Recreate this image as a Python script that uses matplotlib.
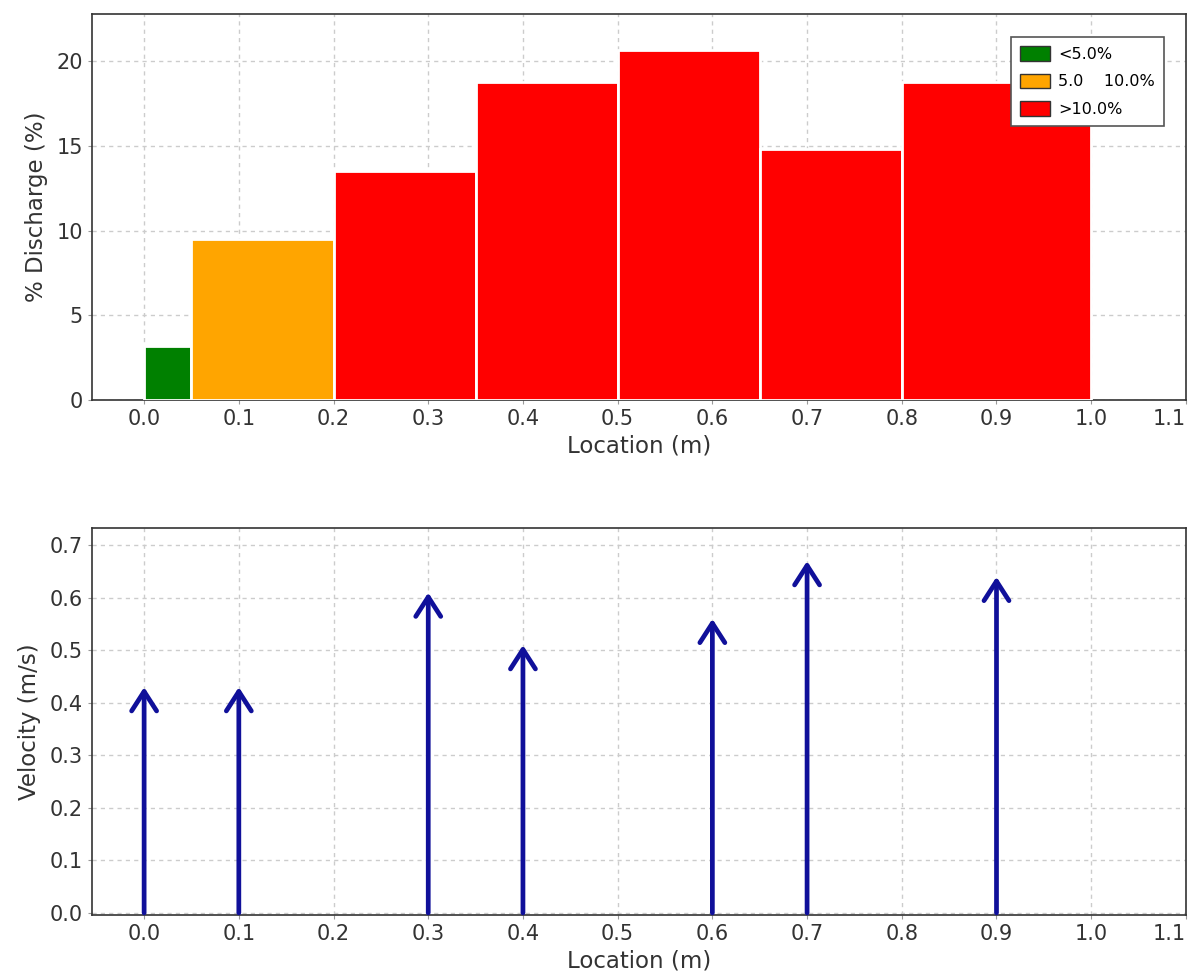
import numpy as np
import matplotlib.pyplot as plt

# discharge per panel
bin_left = [0.0, 0.05, 0.2, 0.35, 0.5, 0.65, 0.8]
bin_width = [0.05, 0.15, 0.15, 0.15, 0.15, 0.15, 0.2]
discharge = [3.2, 9.5, 13.5, 18.8, 20.65, 14.85, 18.8]

# velocity at each station
station = [0.0, 0.1, 0.3, 0.4, 0.6, 0.7, 0.9]
velocity = [0.43, 0.43, 0.61, 0.51, 0.56, 0.67, 0.64]

legend_labels = ['<5.0%', '5.0    10.0%', '>10.0%']
legend_colors = ['#008000', '#FFA500', '#FF0000']


def bar_color(v):
    if v < 5.0:
        return legend_colors[0]
    if v <= 10.0:
        return legend_colors[1]
    return legend_colors[2]


plt.rcParams['font.family'] = 'DejaVu Sans'
fig = plt.figure(figsize=(11.89, 9.8), dpi=100)
ax1 = fig.add_axes([0.0774, 0.5918, 0.92, 0.3939])
ax2 = fig.add_axes([0.0774, 0.0663, 0.92, 0.3949])

xticks = np.round(np.arange(0, 1.11, 0.1), 1)

ax1.bar(bin_left, discharge, width=bin_width, align='edge',
        color=[bar_color(v) for v in discharge], edgecolor='white', linewidth=2, zorder=3)
ax1.set_ylim(0, 22.8)
ax1.set_yticks([0, 5, 10, 15, 20])
ax1.set_ylabel('% Discharge (%)', fontsize=16.5, color='#333333', labelpad=6)

handles = [plt.Rectangle((0, 0), 1, 1, facecolor=c, edgecolor='#333333') for c in legend_colors]
leg = ax1.legend(handles, legend_labels, loc='upper right', bbox_to_anchor=(0.987, 0.96),
                 fontsize=11.5, fancybox=False, framealpha=1, edgecolor='#555555',
                 handlelength=1.9, handleheight=1.0, handletextpad=0.5,
                 borderpad=0.55, labelspacing=0.75)
leg.get_frame().set_linewidth(1.2)

for s, v in zip(station, velocity):
    ax2.annotate('', xy=(s, v), xytext=(s, 0),
                 arrowprops=dict(arrowstyle='->,head_length=0.7,head_width=0.45',
                                 mutation_scale=20, color='#10109a', lw=3.4,
                                 shrinkA=0, shrinkB=0), zorder=3)
ax2.set_ylim(-0.004, 0.733)
ax2.set_yticks(np.round(np.arange(0, 0.71, 0.1), 1))
ax2.set_yticklabels([f'{t:.1f}' for t in np.arange(0, 0.71, 0.1)])
ax2.set_ylabel('Velocity (m/s)', fontsize=16.5, color='#333333', labelpad=6)

for ax in (ax1, ax2):
    ax.set_xlim(-0.055, 1.1)
    ax.set_xticks(xticks)
    ax.set_xticklabels([f'{t:.1f}' for t in xticks])
    ax.get_xticklabels()[-1].set_horizontalalignment('right')
    ax.set_xlabel('Location (m)', fontsize=16.5, color='#333333', labelpad=4)
    ax.grid(True, color='#cccccc', linestyle=(0, (3, 3)), linewidth=1, zorder=0)
    ax.set_axisbelow(True)
    ax.tick_params(labelsize=15, labelcolor='#333333', length=3, color='#999999')
    for sp in ax.spines.values():
        sp.set_color('#333333')
        sp.set_linewidth(1.2)

fig.savefig('out.png', dpi=100)
